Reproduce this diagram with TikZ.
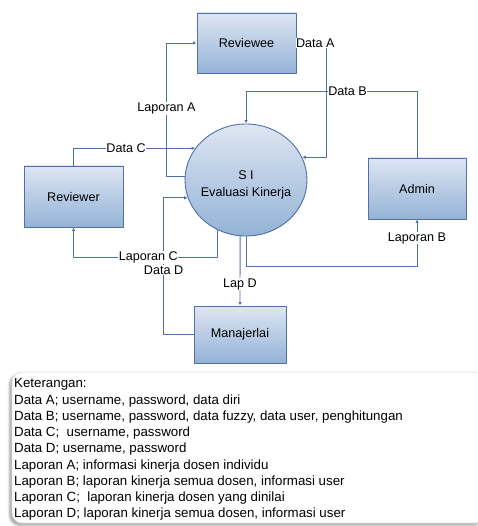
\documentclass[tikz,border=0pt]{standalone}
\usepackage{fontspec}
\setmainfont{Liberation Sans}
\usepackage{tikz}
\usetikzlibrary{calc}
\usetikzlibrary{arrows.meta}
\usetikzlibrary{shapes.geometric}
\usetikzlibrary{shadows.blur}
\definecolor{qqttaa}{rgb}{0.31,0.44,0.66}
\definecolor{ddeeff}{rgb}{0.87,0.90,0.95}
\definecolor{bbccee}{rgb}{0.58,0.70,0.84}
\definecolor{ccdddd}{rgb}{0.88,0.88,0.88}
\tikzstyle{every node}=[font=\fontsize{12.6}{17}\selectfont]
\tikzstyle{entity}=[rectangle,draw=qqttaa,line width=0.9pt,top color=ddeeff,bottom color=bbccee,minimum width=99pt,minimum height=60pt,inner sep=0pt]
\tikzstyle{flow}=[->,line width=0.9pt,draw=qqttaa]
\tikzstyle{lbl}=[fill=white,inner sep=0.5pt]

\begin{document}
\begin{tikzpicture}[line cap=round,line join=round,>={Latex[length=3.5pt,width=3.5pt]},x=1pt,y=-1pt]
            \useasboundingbox (0,0) rectangle (477,526);
            % entitas dan proses
            \node[entity] (reviewee) at (246.5,43) {Reviewee};
            \node[entity,minimum height=61pt] (reviewer) at (73.5,196.5) {Reviewer};
            \node[entity,minimum width=98pt,minimum height=61pt] (admin) at (417,188.5) {Admin};
            \node[entity,minimum width=92pt,minimum height=57pt] (manajer) at (240,334.5) {Manajerlai};
            \node[ellipse,draw=qqttaa,line width=0.9pt,top color=ddeeff,bottom color=bbccee,minimum width=122pt,minimum height=112pt,inner sep=0pt] (si) at (246,180) {};
            \node[align=center,inner sep=0pt] (sitxt) at (246,185) {S I\\Evaluasi Kinerja};
            % aliran data
            \draw[flow] (reviewee.east) -- node[lbl,pos=0.63]{Data A} ++(30,0) |- (si.22);
            \draw[flow] (admin.north) |- node[lbl,pos=0.703]{Data B} ([yshift=32pt]si.north) -- (si.north);
            \draw[flow] (si.177) -| node[lbl,pos=0.755]{Laporan A} ([xshift=-30pt]reviewee.west) -- (reviewee.west);
            \draw[flow] (reviewer.north) |- node[lbl,pos=0.716]{Data C} (si.148);
            \draw[flow] (manajer.west) -- ++(-30,0) |- node[lbl,pos=0.235]{Data D} (si.197);
            \draw[flow] (si.240) |- node[lbl,pos=0.74]{Laporan C} ([yshift=-30pt]reviewer.south) -- (reviewer.south);
            \draw[flow] (si.264) -- node[lbl,pos=0.69]{Lap D} (manajer.north);
            \draw[flow] (si.south) |- ([yshift=-47pt]admin.south) -- node[lbl,pos=0.6]{Laporan B} (admin.south);
            % keterangan
            \draw[draw=ccdddd,fill=white,line width=0.8pt,rounded corners=10pt,blur shadow={shadow xshift=-2.5pt,shadow yshift=-2.5pt,shadow blur steps=6,shadow opacity=35}] (12,372) rectangle (486,523);
            \node[anchor=north west,align=left,inner sep=0pt,font=\fontsize{13.3}{16.25}\selectfont] (ket) at (14,378.5) {Keterangan:\\
            Data A; username, password, data diri\\
            Data B; username, password, data fuzzy, data user, penghitungan\\
            Data C; \ username, password\\
            Data D; username, password\\
            Laporan A; informasi kinerja dosen individu\\
            Laporan B; laporan kinerja semua dosen, informasi user\\
            Laporan C; \ laporan kinerja dosen yang dinilai\\
            Laporan D; laporan kinerja semua dosen, informasi user};
\end{tikzpicture}
\end{document}
